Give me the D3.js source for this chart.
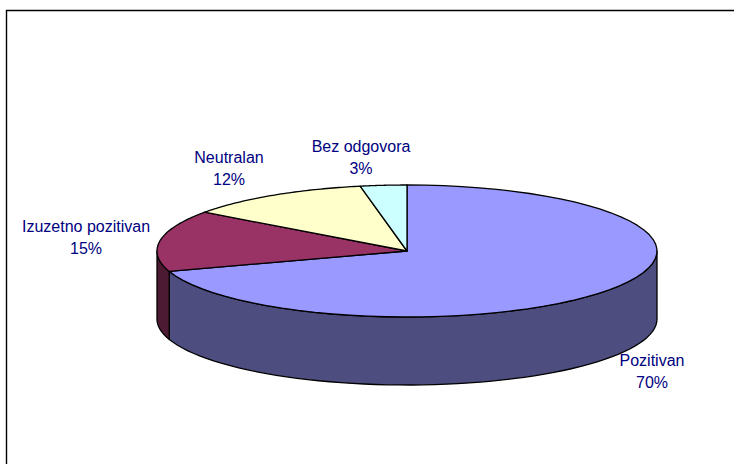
<!DOCTYPE html>
<html>
<head>
<meta charset="utf-8">
<script src="https://cdn.jsdelivr.net/npm/d3@7"></script>
<style>
  html, body { margin: 0; padding: 0; background: #fff; }
  svg { display: block; }
  text { font-family: "Liberation Sans", Arial, sans-serif; font-size: 16px; fill: #000080; }
</style>
</head>
<body>
<svg id="chart" width="734" height="464"></svg>
<script>
var categories = ['Pozitivan', 'Izuzetno pozitivan', 'Neutralan', 'Bez odgovora'];
var percentages = [70, 15, 12, 3];
var topColors = ['#9999ff', '#993366', '#ffffcc', '#ccffff'];
var sideColors = ['#4d4d80', '#4d1a33', '#808066', '#668080'];

// label anchors, centre of the two line block
var labelX = [652, 86, 229, 361];
var labelY = [372, 238, 169, 158];

var depth = 68;
var svg = d3.select('#chart');

// frame runs off the right and bottom of the picture
svg.append('path')
  .attr('d', 'M6.5,464V10.5H734')
  .attr('fill', 'none')
  .attr('stroke', '#000')
  .attr('stroke-width', 1.4);

// unit circle to the squashed top ellipse
var x = d3.scaleLinear().domain([-1, 1]).range([157, 657]);
var y = d3.scaleLinear().domain([-1, 1]).range([185, 317]);

var slices = d3.pie().sort(null).startAngle(0).endAngle(2 * Math.PI)(percentages);

var arcPoints = function (a0, a1) {
  return d3.range(0, 61).map(function (i) {
    var a = a0 + (a1 - a0) * i / 60;
    return [Math.sin(a), -Math.cos(a)];
  });
};

var line = d3.line()
  .x(function (d) { return x(d[0]); })
  .y(function (d) { return y(d[1]) + (d[2] || 0); });

// walls, only the front half of the ellipse is visible
slices.forEach(function (s, i) {
  var a0 = Math.max(s.startAngle, Math.PI / 2);
  var a1 = Math.min(s.endAngle, 3 * Math.PI / 2);
  if (a1 <= a0) {
    return;
  }
  var upper = arcPoints(a0, a1);
  var lower = upper.slice().reverse().map(function (p) {
    return [p[0], p[1], depth];
  });
  svg.append('path')
    .attr('d', line(upper.concat(lower)) + 'Z')
    .attr('fill', sideColors[i])
    .attr('stroke', '#000')
    .attr('stroke-width', 1.3)
    .attr('stroke-linejoin', 'round');
});

// top face
slices.forEach(function (s, i) {
  svg.append('path')
    .attr('d', line([[0, 0]].concat(arcPoints(s.startAngle, s.endAngle))) + 'Z')
    .attr('fill', topColors[i])
    .attr('stroke', '#000')
    .attr('stroke-width', 1.3)
    .attr('stroke-linejoin', 'round');
});

categories.forEach(function (name, i) {
  var label = svg.append('text')
    .attr('text-anchor', 'middle')
    .attr('x', labelX[i])
    .attr('y', labelY[i]);
  label.append('tspan').attr('x', labelX[i]).attr('dy', -6).text(name);
  label.append('tspan').attr('x', labelX[i]).attr('dy', 22).text(percentages[i] + '%');
});
</script>
</body>
</html>
